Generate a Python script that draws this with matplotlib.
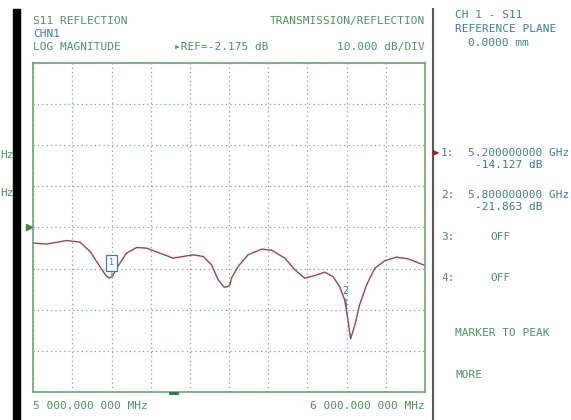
import matplotlib
matplotlib.use('Agg')
import matplotlib.pyplot as plt
from matplotlib.lines import Line2D
from matplotlib.patches import Rectangle

# S11 trace (MHz, dB)
freq_mhz = [5000, 5034, 5085, 5119, 5145, 5170, 5185, 5194, 5203, 5213, 5238, 5264,
            5289, 5323, 5357, 5408, 5434, 5455, 5472, 5487, 5495, 5502, 5506,
            5523, 5548, 5583, 5608, 5642, 5668, 5693, 5719, 5744, 5765,
            5782, 5795, 5804, 5810, 5821, 5833, 5851, 5872, 5897, 5927,
            5957, 6000]
s11_db = [-5.97, -6.21, -5.34, -5.73, -8.01, -11.66, -13.8, -14.49, -13.9, -12.05, -8.40, -7.04,
          -7.19, -8.40, -9.62, -8.82, -9.23, -11.25, -14.90, -16.68, -16.6, -16.12, -14.49,
          -11.66, -8.82, -7.43, -7.67, -9.62, -12.47, -14.49, -13.85, -13.03, -14.10,
          -16.53, -19.8, -25.05, -29.26, -25.85, -20.98, -16.12, -12.05, -10.28, -9.38,
          -9.79, -11.42]

marker_freq = [5200, 5800]
marker_db = [-14.127, -21.863]
ref_db = -2.175
db_per_div = 10.0
start_mhz, stop_mhz = 5000, 6000

W, H = 571, 420
green = '#4c9461'
teal = '#3e8190'
plt.rcParams['font.family'] = ['DejaVu Sans Mono']
plt.rcParams['font.size'] = 8


def px(x, y):
    return x / W, 1 - y / H


fig = plt.figure(figsize=(W / 100, H / 100), dpi=100)
fig.patch.set_facecolor('white')

ax = fig.add_axes([33.3 / W, (H - 392) / H, 391.7 / W, 329 / H])
ax.plot(freq_mhz, s11_db, color='#964650', lw=1.0)
ax.set_xlim(start_mhz, stop_mhz)
ax.set_ylim(ref_db - 4 * db_per_div, ref_db + 4 * db_per_div)
ax.set_xticks([start_mhz + 100 * i for i in range(11)])
ax.set_yticks([ref_db + db_per_div * i for i in range(-4, 5)])
ax.tick_params(length=0, labelbottom=False, labelleft=False)
ax.grid(True, color='#7fa886', ls=(0, (1, 2.5)), lw=0.9)
for s in ax.spines.values():
    s.set_color('#6aa872')
    s.set_linewidth(1.2)

# reference level pointer
ax.plot([4989], [ref_db], marker='>', ms=4, color='#3c8a3c', clip_on=False)

# markers
ax.annotate('1', xy=(marker_freq[0], marker_db[0]), xytext=(0, 10),
            textcoords='offset points', ha='center', va='center', fontsize=6,
            color=teal,
            bbox=dict(boxstyle='square,pad=0.4', fc='white', ec=teal, lw=0.9),
            arrowprops=dict(arrowstyle='-', color=teal, lw=0.8, ls=':',
                            shrinkA=0, shrinkB=0))
ax.annotate('2', xy=(marker_freq[1], marker_db[1]), xytext=(-1, 9),
            textcoords='offset points', ha='center', va='bottom', fontsize=7,
            color=teal,
            arrowprops=dict(arrowstyle='-', color=teal, lw=0.8,
                            shrinkA=0, shrinkB=0))

# sweep position tick at the bottom
fig.add_artist(Line2D([170 / W, 177 / W], [px(0, 393)[1]] * 2, color='#2f6f3f', lw=2))

# black bezel bar and divider
fig.add_artist(Rectangle(px(13, 420), 7 / W, 411 / H, color='black'))
fig.add_artist(Line2D([433 / W, 433 / W], [0, px(0, 9)[1]], color='#555555', lw=1.5))

# header texts
fig.text(*px(33, 21), 'S11 REFLECTION', color=green, va='center')
fig.text(*px(33, 34), 'CHN1', color=teal, va='center')
fig.text(*px(33, 47), 'LOG MAGNITUDE', color=green, va='center')
fig.text(*px(425, 21), 'TRANSMISSION/REFLECTION', color=green, va='center', ha='right')
fig.text(*px(174, 47), '▸REF=%.3f dB' % ref_db, color=green, va='center')
fig.text(*px(425, 47), '%.3f dB/DIV' % db_per_div, color=green, va='center', ha='right')
fig.text(*px(33, 406), '5 000.000 000 MHz', color=green, va='center')
fig.text(*px(425, 406), '6 000.000 000 MHz', color=green, va='center', ha='right')

# labels at the left edge
fig.text(*px(0, 155), 'Hz', color=green, va='center', ha='left')
fig.text(*px(0, 193), 'Hz', color=green, va='center', ha='left')

# right panel
fig.text(*px(455, 15), 'CH 1 - S11', color=teal, va='center')
fig.text(*px(455, 29), 'REFERENCE PLANE', color=teal, va='center')
fig.text(*px(468, 43), '0.0000 mm', color=teal, va='center')

fig.text(*px(439, 153), '▶', color='#a01c1c', va='center', ha='right',
         fontsize=6, family='DejaVu Sans')
for i, (f, d) in enumerate(zip(marker_freq, marker_db)):
    y = 153 + 42 * i
    fig.text(*px(441, y), '%d:' % (i + 1), color=teal, va='center')
    fig.text(*px(468, y), '%.9f GHz' % (f / 1000), color=teal, va='center')
    fig.text(*px(475, y + 12), '%.3f dB' % d, color='#3a7598', va='center')
for i, n in enumerate([3, 4]):
    y = 237 + 41 * i
    fig.text(*px(441, y), '%d:' % n, color=green, va='center')
    fig.text(*px(490, y), 'OFF', color=green, va='center')

fig.text(*px(455, 333), 'MARKER TO PEAK', color=green, va='center')
fig.text(*px(455, 375), 'MORE', color=green, va='center')

fig.savefig('out.png', dpi=100)
